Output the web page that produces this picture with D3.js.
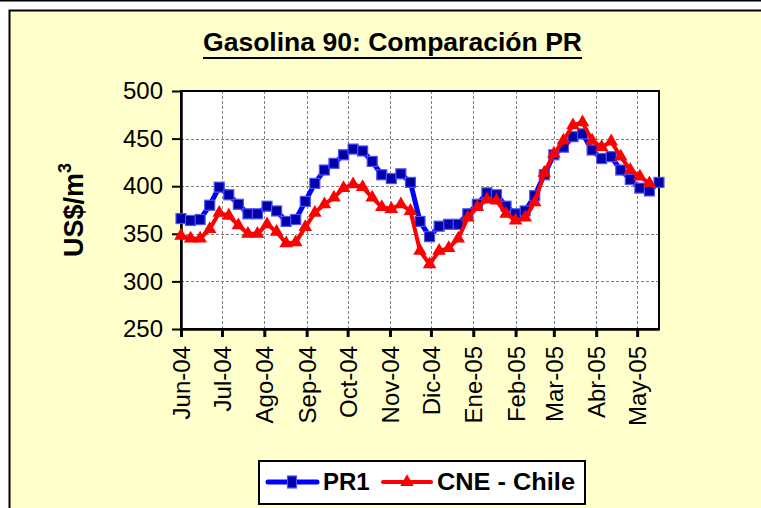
<!DOCTYPE html>
<html>
<head>
<meta charset="utf-8">
<script src="https://cdn.jsdelivr.net/npm/d3@7"></script>
<style>
  body { margin: 0; background: #fff; }
  svg { display: block; font-family: "Liberation Sans", Arial, sans-serif; }
</style>
</head>
<body>
<svg id="chart" width="761" height="508"></svg>
<script>
// weekly observation dates
const dates = [
  "2004-06-01","2004-06-08","2004-06-15","2004-06-22","2004-06-29",
  "2004-07-06","2004-07-13","2004-07-20","2004-07-27",
  "2004-08-03","2004-08-10","2004-08-17","2004-08-24","2004-08-31",
  "2004-09-07","2004-09-14","2004-09-21","2004-09-28",
  "2004-10-05","2004-10-12","2004-10-19","2004-10-26",
  "2004-11-02","2004-11-09","2004-11-16","2004-11-23","2004-11-30",
  "2004-12-07","2004-12-14","2004-12-21","2004-12-28",
  "2005-01-04","2005-01-11","2005-01-18","2005-01-25",
  "2005-02-01","2005-02-08","2005-02-15","2005-02-22",
  "2005-03-01","2005-03-08","2005-03-15","2005-03-22","2005-03-29",
  "2005-04-05","2005-04-12","2005-04-19","2005-04-26",
  "2005-05-03","2005-05-10","2005-05-17"
];

// PR1 (US$/m3)
const pr1 = [
  366, 364, 365, 380, 399, 391, 381, 371, 371, 379,
  374, 363, 365, 384, 403, 417, 424, 433, 439, 437,
  426, 412, 408, 413, 404, 363, 347, 358, 360, 360,
  371, 381, 393, 391, 379, 371, 374, 390, 412, 433,
  441, 452, 455, 438, 429, 431, 417, 407, 398, 395,
  404
];

// CNE - Chile (US$/m3)
const cne = [
  348, 345, 345, 355, 372, 369, 359, 350, 350, 360,
  352, 340, 341, 357, 372, 381, 388, 398, 402, 399,
  388, 378, 376, 381, 374, 332, 318, 332, 335, 345,
  367, 378, 386, 385, 371, 364, 367, 383, 414, 434,
  448, 464, 467, 448, 441, 447, 431, 417, 410, 403
];

const monthLabels = ["Jun-04","Jul-04","Ago-04","Sep-04","Oct-04","Nov-04",
                     "Dic-04","Ene-05","Feb-05","Mar-05","Abr-05","May-05"];
const yTicks = [250, 300, 350, 400, 450, 500];

const parse = d3.timeParse("%Y-%m-%d");
const days = dates.map(parse);

const svg = d3.select("#chart");

// page rule + chart panel
svg.append("rect").attr("x", 0).attr("y", 0).attr("width", 761).attr("height", 1.5).attr("fill", "#000");
svg.append("rect")
  .attr("x", 9.5).attr("y", 10.5).attr("width", 800).attr("height", 600)
  .attr("fill", "#ffffcc").attr("stroke", "#000").attr("stroke-width", 2);

const plot = { left: 181, right: 659, top: 91, bottom: 329 };

const x = d3.scaleTime()
  .domain([days[0], days[days.length - 1]])
  .range([plot.left, plot.right]);
const y = d3.scaleLinear().domain([250, 500]).range([plot.bottom, plot.top]);

const months = d3.timeMonth.range(days[0], days[days.length - 1]);

// plot background
svg.append("rect")
  .attr("x", plot.left).attr("y", plot.top)
  .attr("width", plot.right - plot.left).attr("height", plot.bottom - plot.top)
  .attr("fill", "#fff");

// gridlines
const grid = svg.append("g").attr("stroke", "#808080").attr("stroke-width", 1).attr("stroke-dasharray", "3,2");
grid.selectAll(".h").data(yTicks.slice(1, -1)).enter().append("line")
  .attr("x1", plot.left).attr("x2", plot.right)
  .attr("y1", d => Math.round(y(d)) + 0.5).attr("y2", d => Math.round(y(d)) + 0.5);
grid.selectAll(".v").data(months.slice(1)).enter().append("line")
  .attr("y1", plot.top).attr("y2", plot.bottom)
  .attr("x1", d => Math.round(x(d)) + 0.5).attr("x2", d => Math.round(x(d)) + 0.5);

// plot border
svg.append("rect")
  .attr("x", plot.left).attr("y", plot.top)
  .attr("width", plot.right - plot.left).attr("height", plot.bottom - plot.top)
  .attr("fill", "none").attr("stroke", "#000").attr("stroke-width", 2);

// y axis
const yAxis = svg.append("g")
  .attr("transform", "translate(" + plot.left + ",0)")
  .call(d3.axisLeft(y).tickValues(yTicks).tickSize(9).tickSizeOuter(0).tickPadding(9));
yAxis.select(".domain").attr("stroke-width", 2.5);
yAxis.selectAll(".tick line").attr("stroke-width", 2);
yAxis.selectAll("text").attr("font-size", 24).attr("font-family", "Liberation Sans, Arial, sans-serif").attr("fill", "#000");

// x axis
const xAxis = svg.append("g")
  .attr("transform", "translate(0," + plot.bottom + ")")
  .call(d3.axisBottom(x).tickValues(months).tickSize(8).tickSizeOuter(0)
    .tickFormat((d, i) => monthLabels[i]));
xAxis.select(".domain").attr("stroke-width", 2.5);
xAxis.selectAll(".tick line").attr("stroke-width", 3);
xAxis.selectAll("text")
  .attr("font-size", 24).attr("font-family", "Liberation Sans, Arial, sans-serif").attr("fill", "#000")
  .attr("text-anchor", "end")
  .attr("transform", "rotate(-90)")
  .attr("x", -17).attr("y", 0).attr("dy", "0.35em");

// series
const line = d3.line().x(d => x(d[0])).y(d => y(d[1]));
const pr1Pts = pr1.map((v, i) => [days[i], v]);
const cnePts = cne.map((v, i) => [days[i], v]);

svg.append("path").datum(pr1Pts).attr("d", line)
  .attr("fill", "none").attr("stroke", "#0000ff").attr("stroke-width", 5).attr("stroke-linejoin", "round");
svg.append("g").selectAll("rect").data(pr1Pts).enter().append("rect")
  .attr("x", d => x(d[0]) - 5).attr("y", d => y(d[1]) - 5)
  .attr("width", 10).attr("height", 10)
  .attr("fill", "#0000a8").attr("stroke", "#5050ff").attr("stroke-width", 1.2);

svg.append("path").datum(cnePts).attr("d", line)
  .attr("fill", "none").attr("stroke", "#ff0000").attr("stroke-width", 4).attr("stroke-linejoin", "round");
const tri = d3.symbol().type(d3.symbolTriangle).size(80);
svg.append("g").selectAll("path").data(cnePts).enter().append("path")
  .attr("d", tri)
  .attr("transform", d => "translate(" + x(d[0]) + "," + y(d[1]) + ")")
  .attr("fill", "#ff0000");

// title
svg.append("text")
  .attr("x", 392.5).attr("y", 51)
  .attr("text-anchor", "middle")
  .attr("font-size", 25).attr("font-weight", "bold")
  .attr("textLength", 379).attr("lengthAdjust", "spacingAndGlyphs")
  .text("Gasolina 90: Comparación PR");
svg.append("rect").attr("x", 203).attr("y", 57).attr("width", 379).attr("height", 2).attr("fill", "#000");

// y axis title
const yt = svg.append("text")
  .attr("transform", "translate(83,210) rotate(-90)")
  .attr("text-anchor", "middle")
  .attr("font-size", 27).attr("font-weight", "bold");
yt.append("tspan").text("US$/m");
yt.append("tspan").attr("font-size", 18).attr("dy", -12).text("3");

// legend
const lg = svg.append("g");
lg.append("rect")
  .attr("x", 259).attr("y", 461).attr("width", 326).attr("height", 43)
  .attr("fill", "#fff").attr("stroke", "#000").attr("stroke-width", 2);
lg.append("line").attr("x1", 268).attr("x2", 317).attr("y1", 482).attr("y2", 482)
  .attr("stroke", "#0000ff").attr("stroke-width", 5).attr("stroke-linecap", "round");
lg.append("rect").attr("x", 287.5).attr("y", 476).attr("width", 9).attr("height", 12)
  .attr("fill", "#0000a8").attr("stroke", "#5050ff").attr("stroke-width", 1.2);
lg.append("text").attr("x", 323).attr("y", 490).attr("font-size", 24).attr("font-weight", "bold").text("PR1");
lg.append("line").attr("x1", 383).attr("x2", 431).attr("y1", 482).attr("y2", 482)
  .attr("stroke", "#ff0000").attr("stroke-width", 4).attr("stroke-linecap", "round");
lg.append("path").attr("d", tri).attr("transform", "translate(407,482)").attr("fill", "#ff0000");
lg.append("text").attr("x", 437).attr("y", 490).attr("font-size", 24).attr("font-weight", "bold")
  .attr("textLength", 138).attr("lengthAdjust", "spacingAndGlyphs").text("CNE - Chile");
</script>
</body>
</html>
